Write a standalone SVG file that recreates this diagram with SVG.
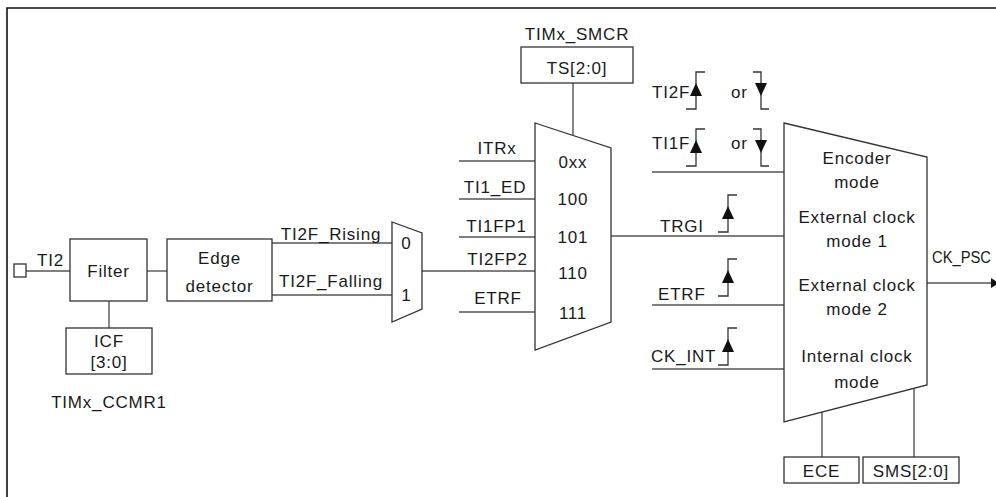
<svg xmlns="http://www.w3.org/2000/svg" width="996" height="497" viewBox="0 0 996 497">
<style>
  text { font-family: "Liberation Sans", Arial, sans-serif; font-size: 17px; letter-spacing: 0.8px; fill: #1a1a1a; }
  .m { text-anchor: middle; }
  .box { fill: #fff; stroke: #333; stroke-width: 1.3; }
  .ln { fill: none; stroke: #555; stroke-width: 1.4; }
  .sym { fill: none; stroke: #333; stroke-width: 1.3; }
  .frame { fill: none; stroke: #111; stroke-width: 1.6; }
</style>
<defs>
  <g id="rise">
    <path class="sym" d="M-10,37 H0 V0 H9"/>
    <polygon points="-6,24 6,24 0,11" fill="#111"/>
  </g>
  <g id="fall">
    <path class="sym" d="M-8,0 H0 V37 H8"/>
    <polygon points="-6,11 6,11 0,24" fill="#111"/>
  </g>
</defs>
<rect width="996" height="497" fill="#fff"/>
<path class="frame" d="M7,497 V8 H996"/>

<g id="connectors">
  <path class="ln" d="M26,271 H70"/>
  <path class="ln" d="M147,271 H167"/>
  <path class="ln" d="M109,301 V328"/>
  <path class="ln" d="M272,243 H392"/>
  <path class="ln" d="M272,295 H392"/>
  <path class="ln" d="M422,271 H535"/>
  <path class="ln" d="M459,161 H535"/>
  <path class="ln" d="M459,199 H535"/>
  <path class="ln" d="M459,237 H535"/>
  <path class="ln" d="M459,312 H535"/>
  <path class="ln" d="M573,83 V136"/>
  <path class="ln" d="M611,236 H784"/>
  <path class="ln" d="M652,172 H784"/>
  <path class="ln" d="M652,305 H784"/>
  <path class="ln" d="M652,369 H784"/>
  <path class="ln" d="M822,412 V457"/>
  <path class="ln" d="M914,388 V457"/>
  <path class="ln" d="M927,283 H993"/>
  <polygon points="991,278 999,283 991,288" fill="#111"/>
</g>

<g id="ti2-pin">
  <rect class="box" x="14" y="264" width="12" height="13"/>
  <text x="37" y="265.5">TI2</text>
</g>

<g id="filter">
  <rect class="box" x="70" y="239" width="77" height="62"/>
  <text class="m" x="108.5" y="277">Filter</text>
</g>

<g id="icf">
  <rect class="box" x="66" y="328" width="86" height="46"/>
  <text class="m" x="109" y="346.5">ICF</text>
  <text class="m" x="109" y="368">[3:0]</text>
  <text class="m" x="109" y="408">TIMx_CCMR1</text>
</g>

<g id="edge-detector">
  <rect class="box" x="167" y="239" width="105" height="62"/>
  <text class="m" x="219.5" y="264">Edge</text>
  <text class="m" x="219.5" y="291.5">detector</text>
</g>

<g id="edge-labels">
  <text class="m" x="331" y="239.5">TI2F_Rising</text>
  <text class="m" x="331" y="286.5">TI2F_Falling</text>
</g>

<g id="mux-small">
  <polygon class="box" points="392,222 422,233 422,309 392,322"/>
  <text class="m" x="406.5" y="248.5">0</text>
  <text class="m" x="406.5" y="301">1</text>
</g>

<g id="ts">
  <text class="m" x="577" y="39.5">TIMx_SMCR</text>
  <rect class="box" x="521" y="47" width="112" height="36"/>
  <text class="m" x="577" y="73.5">TS[2:0]</text>
</g>

<g id="mux-trigger">
  <polygon class="box" points="535,123 611,148 611,322 535,350"/>
  <text class="m" x="573" y="168">0xx</text>
  <text class="m" x="573" y="205">100</text>
  <text class="m" x="573" y="243">101</text>
  <text class="m" x="573" y="279">110</text>
  <text class="m" x="573" y="319">111</text>
</g>

<g id="trigger-inputs">
  <text class="m" x="497" y="154">ITRx</text>
  <text class="m" x="495" y="193">TI1_ED</text>
  <text class="m" x="496.5" y="231.5">TI1FP1</text>
  <text class="m" x="497.5" y="265">TI2FP2</text>
  <text class="m" x="498" y="304">ETRF</text>
</g>

<g id="encoder-inputs">
  <text x="652" y="97.5">TI2F</text>
  <use href="#rise" x="696" y="72"/>
  <text x="731" y="97.5">or</text>
  <use href="#fall" x="761" y="72"/>
  <text x="652" y="148.5">TI1F</text>
  <use href="#rise" x="696" y="129"/>
  <text x="731" y="148.5">or</text>
  <use href="#fall" x="761" y="129"/>
</g>

<g id="trgi">
  <text x="660" y="231.5">TRGI</text>
  <use href="#rise" x="728" y="195"/>
</g>

<g id="etrf">
  <text x="658" y="300">ETRF</text>
  <use href="#rise" x="728" y="259"/>
</g>

<g id="ck-int">
  <text x="651" y="361.5">CK_INT</text>
  <use href="#rise" x="728" y="328"/>
</g>

<g id="mux-mode">
  <polygon class="box" points="784,123 927,157 927,385 784,422"/>
  <text class="m" x="857" y="163.5">Encoder</text>
  <text class="m" x="857" y="187.5">mode</text>
  <text class="m" x="857" y="222.5">External clock</text>
  <text class="m" x="857" y="246.5">mode 1</text>
  <text class="m" x="857" y="290.5">External clock</text>
  <text class="m" x="857" y="315">mode 2</text>
  <text class="m" x="857" y="361.5">Internal clock</text>
  <text class="m" x="857" y="387.5">mode</text>
</g>

<g id="ck-psc">
  <text x="932" y="262.5" style="letter-spacing:0;font-size:16px" textLength="59" lengthAdjust="spacingAndGlyphs">CK_PSC</text>
</g>

<g id="ece">
  <rect class="box" x="784" y="457" width="75" height="26"/>
  <text class="m" x="821.5" y="476.5">ECE</text>
</g>

<g id="sms">
  <rect class="box" x="863" y="457" width="96" height="26"/>
  <text class="m" x="911" y="476.5">SMS[2:0]</text>
</g>
</svg>
